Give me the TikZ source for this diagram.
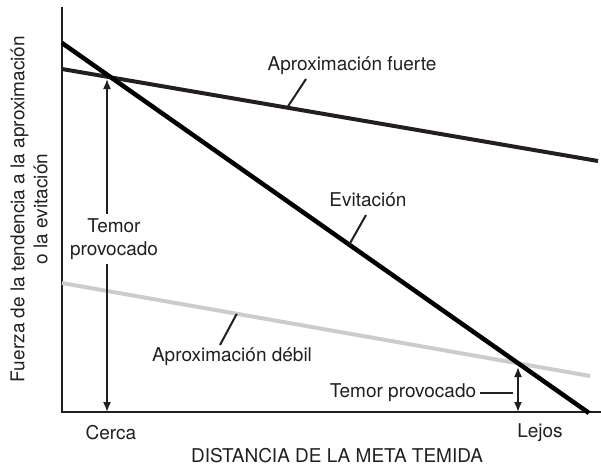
\documentclass[tikz,border=0pt]{standalone}
\usepackage{fontspec}
\setmainfont{TeX Gyre Heros}
\usetikzlibrary{arrows.meta}
\definecolor{ink}{HTML}{231F20}
\definecolor{lightline}{HTML}{CCCCCC}
\begin{document}
\begin{tikzpicture}[x=1pt, y=-1pt, font=\fontsize{19}{23}\selectfont,
    every node/.style={text=ink},
    leader/.style={line width=2pt, ink},
    fear/.style={line width=1.6pt, ink},
    >={Latex[length=10pt,width=8pt]}]
    \useasboundingbox (0,0) rectangle (601,469);
    % Axes
    \coordinate (top) at (62,7);
    \coordinate (origin) at (62,412);
    \coordinate (right) at (601,412);
    \draw[line width=2pt, ink] (top) -- (origin) -- (right);
    % Tendency lines
    \coordinate (s1) at (62,69);
    \coordinate (s2) at (598,161);
    \coordinate (a1) at (62,43);
    \coordinate (a2) at (589,413);
    \coordinate (w1) at (62,283);
    \coordinate (w2) at (590,376);
    \draw[line width=4pt, lightline] (w1) -- (w2) coordinate[pos=0.331] (wmark);
    \draw[line width=4pt, ink] (s1) -- (s2) coordinate[pos=0.42] (smark);
    \draw[line width=4.5pt, black] (a1) -- (a2) coordinate[pos=0.545] (amark);
    % Labels
    \node (strong) at (352,66) {Aproximación fuerte};
    \node (avoid) at (368,200) {Evitación};
    \node (weak) at (232,357) {Aproximación débil};
    \coordinate (sl) at (306,79);
    \coordinate (al) at (366,215);
    \coordinate (wl) at (220,345);
    \draw[leader] (sl) -- (smark);
    \draw[leader] (al) -- (amark);
    \draw[leader] (wl) -- (wmark);
    % Fear near the goal
    \node[align=center, inner sep=4pt] (fearL) at (114,239) {Temor\\provocado};
    \coordinate (fLtop) at (107,79);
    \coordinate (fLbot) at (107,412);
    \draw[fear, <-] (fLtop) -- (fLtop |- fearL.north);
    \draw[fear, ->] (fLbot |- fearL.south) -- (fLbot);
    % Fear far from the goal
    \coordinate (fRtop) at (518,367);
    \coordinate (fRbot) at (518,412);
    \draw[fear, <->] (fRtop) -- (fRbot);
    \node[inner sep=4pt] (fearR) at (403,393) {Temor provocado};
    \coordinate (fRl) at (513,393);
    \draw[leader] (fearR.east) -- (fRl);
    % Axis texts
    \node (near) at (111,433) {Cerca};
    \node (far) at (540,433) {Lejos};
    \node (xlab) at (337,456) {DISTANCIA DE LA META TEMIDA};
    \node[rotate=90, align=center] (ylab) at (29,209) {Fuerza de la tendencia a la aproximación\\o la evitación};
\end{tikzpicture}
\end{document}
